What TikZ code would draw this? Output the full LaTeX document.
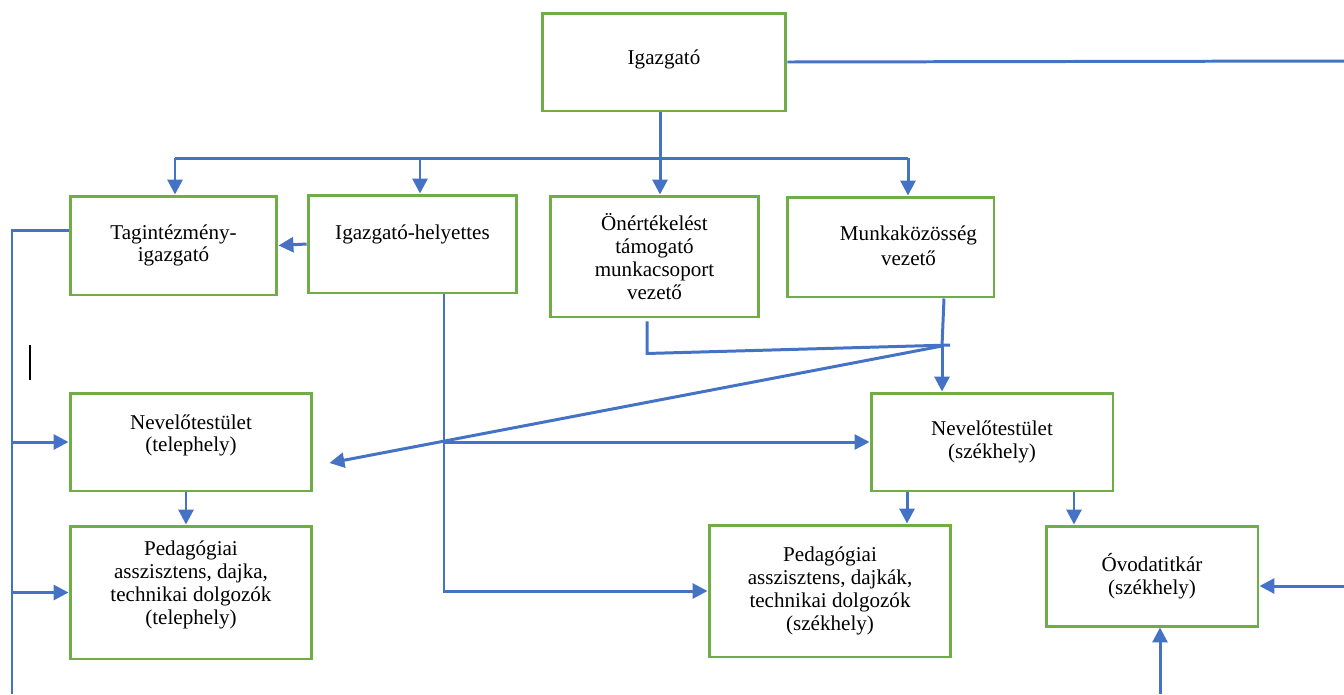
\documentclass[tikz,border=0pt]{standalone}
\usepackage{fontspec}
\setmainfont{Liberation Serif}
\usetikzlibrary{
  arrows.meta,
  calc,
  positioning
}
\definecolor{boxgreen}{HTML}{70AD47}
\definecolor{linkblue}{HTML}{4472C4}

\begin{document}
\begin{tikzpicture}[x=0.02cm, y=-0.02cm,
    unit/.style={draw=boxgreen, line width=1.7pt, align=center,
      font=\fontsize{12}{13}\selectfont, inner sep=2pt},
    link/.style={draw=linkblue, line width=1.7pt},
    arr/.style={link, -{Triangle[length=8.5pt, width=8.5pt]}}]
  \useasboundingbox (0, 0) rectangle (1344, 694);

  % boxes
  \node[unit, minimum width=4.88cm, minimum height=1.96cm] (igazgato) at (664, 62) {Igazgató\\[-7pt]\mbox{}};
  \node[unit, minimum width=4.14cm, minimum height=1.98cm] (tagint) at (173.5, 245.5) {Tagintézmény-\\igazgató};
  \node[unit, minimum width=4.18cm, minimum height=1.96cm] (helyettes) at (412.5, 244) {Igazgató-helyettes\\\mbox{}};
  \node[unit, minimum width=4.18cm, minimum height=2.42cm] (onert) at (654.5, 256.5) {Önértékelést\\támogató\\munkacsoport\\vezető};
  \node[unit, minimum width=4.14cm, minimum height=2.0cm] (munka) at (890.5, 247) {\mbox{}\\[-6pt]\hspace*{0.72cm}Munkaközösség\\[1pt]\hspace*{0.72cm}vezető};
  \node[unit, minimum width=4.84cm, minimum height=1.96cm] (nevtel) at (191, 442) {Nevelőtestület\\(telephely)\\[-3pt]\mbox{}};
  \node[unit, minimum width=4.84cm, minimum height=1.96cm] (nevszek) at (992, 442) {Nevelőtestület\\(székhely)};
  \node[unit, minimum width=4.84cm, minimum height=2.66cm] (pedtel) at (191, 592.5) {Pedagógiai\\asszisztens, dajka,\\technikai dolgozók\\(telephely)\\[-2pt]\mbox{}};
  \node[unit, minimum width=4.84cm, minimum height=2.64cm] (pedszek) at (830, 591) {Pedagógiai\\asszisztens, dajkák,\\technikai dolgozók\\(székhely)};
  \node[unit, minimum width=4.24cm, minimum height=2.0cm] (titkar) at (1152, 576) {Óvodatitkár\\(székhely)};

  % free ends and joints
  \coordinate (busL) at (175, 158);
  \coordinate (busR) at (908, 158);
  \coordinate (offR) at (1344, 61);
  \coordinate (railBot) at (12, 694);
  \coordinate (knot) at (942, 346);
  \coordinate (knotR) at (950, 345);
  \coordinate (offE) at (1344, 586);
  \coordinate (offS) at (1160, 694);
  \coordinate (hdrop) at ([xshift=0.63cm]helyettes.south);

  % links
  \draw[link] (igazgato.east) -- (offR);
  \draw[link] (busL) -- (busR);
  \draw[arr] ([xshift=-0.08cm]igazgato.south) -- ([xshift=-0.08cm]igazgato.south |- onert.north);
  \draw[arr] (busL) -- (busL |- tagint.north);
  \draw[arr] ([xshift=0.15cm]helyettes.north |- busL) -- ([xshift=0.15cm]helyettes.north);
  \draw[arr] (busR) -- (busR |- munka.north);
  \draw[arr] (helyettes.west) -- (tagint.east);

  \draw[link] ([yshift=0.3cm]tagint.west) -| (railBot);
  \draw[arr] (railBot |- nevtel.west) -- (nevtel.west);
  \draw[arr] (railBot |- pedtel.west) -- (pedtel.west);

  \draw[arr] (hdrop) |- (pedszek.west);
  \draw[arr] (hdrop |- nevszek.west) -- (nevszek.west);

  \draw[link] ([xshift=-0.15cm, yshift=-0.06cm]onert.south) -- ++(0, 32) -- (knotR);
  \draw[link] ([xshift=1.07cm]munka.south) -- (knot);
  \draw[arr] (knot) -- (knot |- nevszek.north);
  \draw[arr] (knot) -- ([xshift=0.32cm, yshift=-0.42cm]nevtel.east);

  \draw[arr] ([xshift=-0.1cm]nevtel.south) -- ([xshift=-0.1cm]pedtel.north);
  \draw[arr] ([xshift=-1.7cm]nevszek.south) -- ([xshift=-1.7cm]nevszek.south |- pedszek.north);
  \draw[arr] ([xshift=1.64cm]nevszek.south) -- ([xshift=1.64cm]nevszek.south |- titkar.north);
  \draw[arr] (offE) -- (titkar.east |- offE);
  \draw[arr] (offS) -- (offS |- titkar.south);

  % cursor mark
  \draw[line width=0.8pt] (30, 345) -- (30, 380);
\end{tikzpicture}
\end{document}
